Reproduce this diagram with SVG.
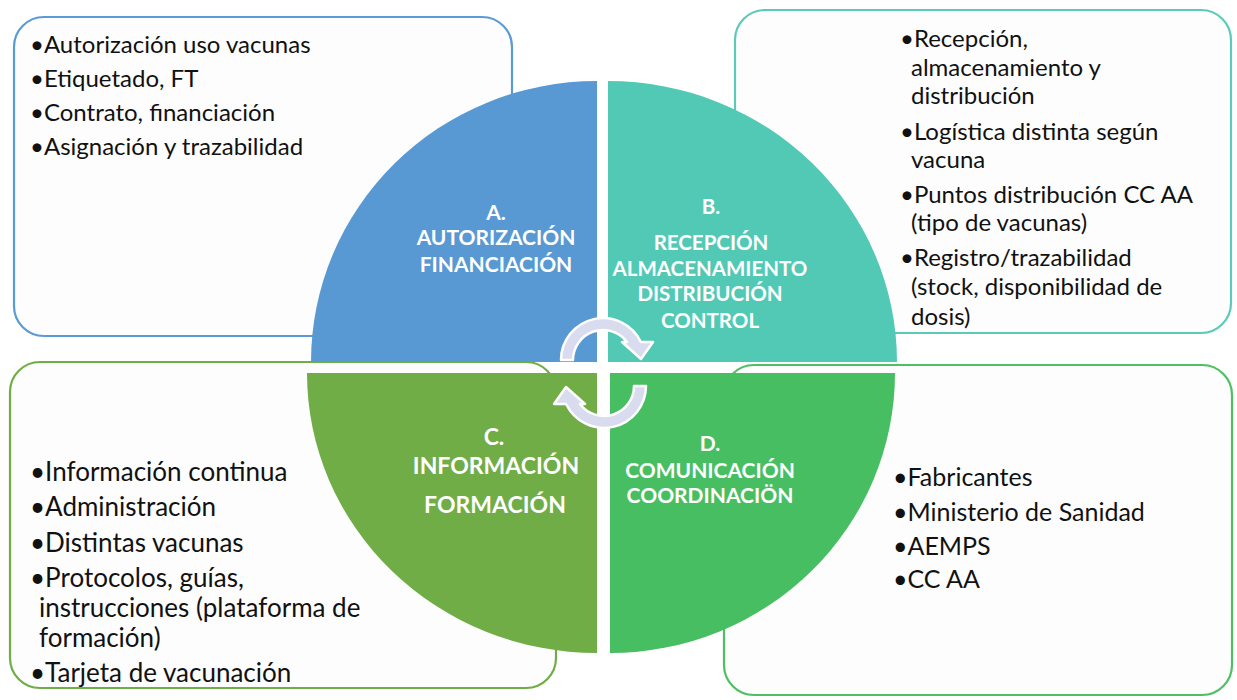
<svg xmlns="http://www.w3.org/2000/svg" width="1237" height="700" viewBox="0 0 1237 700">
<style>
.box{fill:#fdfdfd;stroke-width:2.2}
.t{font-family:Lato,"Liberation Sans",sans-serif;font-size:24px;fill:#111111}
.tc{font-size:26px}
.td{font-size:25px}
.q{stroke:none}
.lbl{font-family:Lato,"Liberation Sans",sans-serif;font-weight:700;font-size:21px;fill:#ffffff;text-anchor:middle}
.lblB{font-size:20.5px}
.lblC{font-size:23px}
.arr{fill:#d9dcef;stroke:#ffffff;stroke-width:2.5;stroke-linejoin:round}
</style>
<defs>
<path id="arrowTop" class="arr" d="M561,360 A42,42 0 0,1 640.9,342 L653,342 L641,359 L622,342 L627,342 A30,30 0 0,0 573,360 Z"/>
</defs>
<rect width="1237" height="700" fill="#ffffff"/>

<g id="box-a">
<rect class="box" x="14" y="17" width="498" height="319" rx="30" stroke="#5b9bd5"/>
<text class="t" x="30" y="53">•Autorización uso vacunas</text>
<text class="t" x="30" y="87">•Etiquetado, FT</text>
<text class="t" x="30" y="121">•Contrato, financiación</text>
<text class="t" x="30" y="155">•Asignación y trazabilidad</text>
</g>

<g id="box-b">
<rect class="box" x="735" y="10" width="496" height="323" rx="30" stroke="#5ccab8"/>
<text class="t" x="900" y="47">•Recepción,</text>
<text class="t" x="911" y="76">almacenamiento y</text>
<text class="t" x="911" y="104">distribución</text>
<text class="t" x="900" y="140">•Logística distinta según</text>
<text class="t" x="911" y="168">vacuna</text>
<text class="t" x="900" y="203">•Puntos distribución CC AA</text>
<text class="t" x="911" y="231">(tipo de vacunas)</text>
<text class="t" x="900" y="266">•Registro/trazabilidad</text>
<text class="t" x="911" y="295">(stock, disponibilidad de</text>
<text class="t" x="911" y="325">dosis)</text>
</g>

<g id="box-c">
<rect class="box" x="10" y="362" width="546" height="326" rx="30" stroke="#70ad47"/>
<text class="t tc" x="30" y="481">•Información continua</text>
<text class="t tc" x="30" y="516">•Administración</text>
<text class="t tc" x="30" y="552">•Distintas vacunas</text>
<text class="t tc" x="30" y="587">•Protocolos, guías,</text>
<text class="t tc" x="39" y="617">instrucciones (plataforma de</text>
<text class="t tc" x="39" y="647">formación)</text>
<text class="t tc" x="30" y="682">•Tarjeta de vacunación</text>
</g>

<g id="box-d">
<rect class="box" x="724" y="365" width="508" height="330" rx="30" stroke="#4cc062"/>
<text class="t td" x="893" y="486">•Fabricantes</text>
<text class="t td" x="893" y="521">•Ministerio de Sanidad</text>
<text class="t td" x="893" y="555">•AEMPS</text>
<text class="t td" x="893" y="588">•CC AA</text>
</g>

<g id="quadrant-a">
<path class="q" fill="#5899d3" d="M597,362 L311,362 A286,281 0 0,1 597,81 Z"/>
<text class="lbl" x="496" y="219.5">A.</text>
<text class="lbl" x="496" y="245">AUTORIZACIÓN</text>
<text class="lbl" x="496" y="271.5">FINANCIACIÓN</text>
</g>

<g id="quadrant-b">
<path class="q" fill="#52c9b5" d="M608,362 L608,81 A289,281 0 0,1 897,362 Z"/>
<text class="lbl lblB" x="711" y="214">B.</text>
<text class="lbl lblB" x="711" y="250">RECEPCIÓN</text>
<text class="lbl lblB" x="710" y="276" font-size="18.5">ALMACENAMIENTO</text>
<text class="lbl lblB" x="710" y="301">DISTRIBUCIÓN</text>
<text class="lbl lblB" x="710" y="328">CONTROL</text>
</g>

<g id="quadrant-c">
<path class="q" fill="#70ad47" d="M597,373 L597,653 A290,280 0 0,1 307,373 Z"/>
<text class="lbl lblC" x="494" y="445">C.</text>
<text class="lbl lblC" x="496" y="474">INFORMACIÓN</text>
<text class="lbl lblC" x="495" y="513">FORMACIÓN</text>
</g>

<g id="quadrant-d">
<path class="q" fill="#48be62" d="M610,373 L895,373 A285,280 0 0,1 610,653 Z"/>
<text class="lbl" x="710" y="451">D.</text>
<text class="lbl" x="710" y="478">COMUNICACIÓN</text>
<text class="lbl" x="710" y="503">COORDINACIÖN</text>
</g>

<g id="connectors">
<use href="#arrowTop"/>
<use href="#arrowTop" transform="rotate(180 603.5 373)"/>
</g>
</svg>
